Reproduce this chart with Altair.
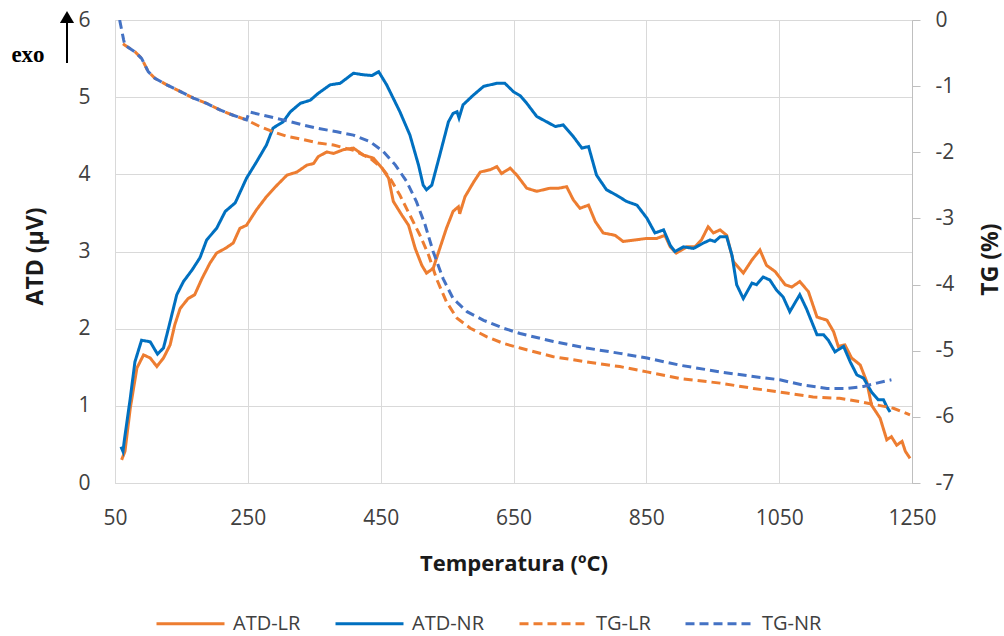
import altair as alt
import pandas as pd

# ---- data ----
atd_lr_t = [60, 65, 73, 83, 93, 103, 113, 123, 133, 140, 148, 160, 170, 181, 193, 203, 216, 228, 238, 248,
            263, 278, 294, 309, 324, 339, 349, 356, 369, 379, 394, 409, 424, 439, 452, 462, 469, 482, 492, 502,
            512, 519, 529, 539, 549, 559, 567, 569, 577, 590, 600, 615, 625, 632, 645, 655, 670, 685, 705, 718,
            730, 740, 750, 763, 773, 785, 803, 815, 833, 851, 866, 878, 886, 895, 911, 923, 933, 943, 951, 961,
            971, 981, 996, 1009, 1021, 1031, 1044, 1059, 1069, 1081, 1094, 1107, 1122, 1132, 1139, 1149, 1159,
            1172, 1182, 1189, 1202, 1212, 1219, 1227, 1235, 1240, 1247]
atd_lr_v = [0.30, 0.41, 0.97, 1.49, 1.66, 1.62, 1.51, 1.62, 1.79, 2.05, 2.26, 2.39, 2.44, 2.65, 2.85, 2.98, 3.04, 3.11, 3.30, 3.34,
            3.54, 3.71, 3.86, 3.99, 4.03, 4.12, 4.14, 4.23, 4.29, 4.27, 4.32, 4.34, 4.25, 4.21, 4.08, 3.95, 3.65, 3.47, 3.34, 3.04,
            2.82, 2.72, 2.78, 3.04, 3.30, 3.52, 3.58, 3.49, 3.71, 3.90, 4.03, 4.06, 4.10, 4.01, 4.08, 3.99, 3.82, 3.78, 3.82, 3.82,
            3.84, 3.67, 3.56, 3.60, 3.39, 3.24, 3.21, 3.13, 3.15, 3.17, 3.17, 3.21, 3.06, 2.98, 3.06, 3.06, 3.15, 3.32, 3.24, 3.28,
            3.21, 2.87, 2.72, 2.89, 3.02, 2.82, 2.74, 2.57, 2.54, 2.61, 2.48, 2.15, 2.11, 1.96, 1.77, 1.79, 1.62,
            1.53, 1.31, 1.01, 0.84, 0.56, 0.60, 0.49, 0.54, 0.41, 0.32]

atd_nr_t = [59, 62, 64, 73, 80, 90, 103, 114, 123, 133, 143, 153, 166, 178, 188, 203, 216, 231, 248, 263,
            278, 288, 303, 314, 329, 344, 356, 374, 389, 409, 424, 437, 447, 459, 479, 494, 507, 514, 519, 527,
            539, 552, 559, 565, 568, 574, 590, 605, 625, 637, 650, 660, 670, 685, 700, 713, 725, 740, 753, 763,
            775, 790, 805, 820, 836, 851, 863, 876, 886, 893, 906, 921, 936, 946, 953, 961, 971, 979, 986, 996,
            1009, 1016, 1026, 1036, 1046, 1056, 1066, 1081, 1091, 1107, 1117, 1124, 1134, 1147, 1157, 1167, 1177,
            1189, 1199, 1207, 1212, 1217]
atd_nr_v = [0.47, 0.41, 0.55, 1.10, 1.57, 1.85, 1.83, 1.67, 1.75, 2.09, 2.44, 2.61, 2.76, 2.92, 3.15, 3.30, 3.52, 3.63, 3.95, 4.16,
            4.38, 4.60, 4.68, 4.81, 4.92, 4.96, 5.05, 5.16, 5.18, 5.31, 5.29, 5.28, 5.33, 5.16, 4.81, 4.51, 4.12, 3.86, 3.80, 3.86,
            4.25, 4.68, 4.79, 4.81, 4.73, 4.90, 5.03, 5.14, 5.18, 5.18, 5.07, 5.02, 4.92, 4.75, 4.68, 4.62, 4.64, 4.49, 4.34, 4.36,
            3.99, 3.80, 3.73, 3.65, 3.60, 3.43, 3.24, 3.28, 3.08, 3.00, 3.06, 3.04, 3.11, 3.15, 3.13, 3.19, 3.19, 2.95, 2.57, 2.39,
            2.59, 2.57, 2.67, 2.63, 2.50, 2.41, 2.22, 2.44, 2.26, 1.92, 1.92, 1.85, 1.70, 1.77, 1.57, 1.40, 1.36,
            1.18, 1.08, 1.08, 0.99, 0.92]

tg_lr_t = [62, 65, 80, 90, 100, 110, 128, 148, 168, 188, 208, 228, 248, 268, 288, 309, 334, 356, 379, 409,
           434, 452, 464, 479, 494, 509, 522, 534, 549, 565, 585, 610, 635, 660, 710, 760, 810, 851, 901, 961,
           1011, 1061, 1101, 1141, 1172, 1197, 1222, 1247]
tg_lr_v = [-0.36, -0.38, -0.48, -0.58, -0.78, -0.88, -0.98, -1.08, -1.18, -1.26, -1.36, -1.44, -1.51, -1.61, -1.69, -1.76, -1.81, -1.86, -1.89, -1.97,
           -2.09, -2.24, -2.39, -2.65, -2.95, -3.25, -3.55, -3.91, -4.26, -4.51, -4.66, -4.79, -4.89, -4.96, -5.09, -5.17, -5.24, -5.32, -5.42, -5.49,
           -5.57, -5.64, -5.70, -5.72, -5.77, -5.82, -5.87, -5.97]

tg_nr_t = [57, 60, 63, 65, 80, 90, 100, 110, 128, 148, 168, 188, 208, 228, 248, 252, 273, 303, 334, 356,
           384, 409, 434, 454, 472, 489, 504, 517, 529, 544, 559, 580, 605, 635, 660, 710, 760, 810, 851, 901,
           961, 1011, 1051, 1086, 1122, 1152, 1177, 1197, 1219]
tg_nr_v = [0.0, -0.15, -0.30, -0.38, -0.48, -0.58, -0.78, -0.88, -0.98, -1.08, -1.18, -1.26, -1.36, -1.44, -1.51, -1.39, -1.44, -1.51, -1.59, -1.64,
           -1.69, -1.74, -1.84, -1.99, -2.19, -2.44, -2.75, -3.10, -3.50, -3.91, -4.21, -4.41, -4.54, -4.66, -4.74, -4.86, -4.96, -5.04, -5.11, -5.22,
           -5.32, -5.39, -5.44, -5.52, -5.57, -5.57, -5.54, -5.49, -5.44]

series_names = ["ATD-LR", "ATD-NR", "TG-LR", "TG-NR"]
series_colors = ["#ED7D31", "#0070C0", "#ED7D31", "#4472C4"]
series_dash = [[1, 0], [1, 0], [9, 5], [9, 5]]
x_ticks = [50, 250, 450, 650, 850, 1050, 1250]
atd_ticks = [0, 1, 2, 3, 4, 5, 6]
tg_ticks = [-7, -6, -5, -4, -3, -2, -1, 0]


def long_df(parts):
    rows = []
    for name, ts, vs in parts:
        for t, v in zip(ts, vs):
            rows.append({"series": name, "T": t, "v": v})
    return pd.DataFrame(rows)


df_atd = long_df([("ATD-LR", atd_lr_t, atd_lr_v), ("ATD-NR", atd_nr_t, atd_nr_v)])
df_tg = long_df([("TG-LR", tg_lr_t, tg_lr_v), ("TG-NR", tg_nr_t, tg_nr_v)])

FONT = "Open Sans"
GRID = "#d9d9d9"
LABEL = "#404040"
TITLE = "#1a1a1a"

legend = alt.Legend(
    title=None, orient="none", direction="horizontal", legendX=40, legendY=568,
    symbolType="stroke", symbolSize=4624, symbolStrokeWidth=3,
    labelFontSize=20, labelFont=FONT, labelColor=LABEL, labelOffset=7,
    columnPadding=28, columns=4,
)
color = alt.Color("series:N", scale=alt.Scale(domain=series_names, range=series_colors), legend=legend)
dash = alt.StrokeDash("series:N", scale=alt.Scale(domain=series_names, range=series_dash), legend=legend)

x_enc = alt.X(
    "T:Q",
    scale=alt.Scale(domain=[50, 1250], nice=False, zero=False),
    axis=alt.Axis(
        values=x_ticks, title="Temperatura (ºC)", grid=True, gridColor=GRID, ticks=False,
        domainColor=GRID, labelFontSize=21, labelFont=FONT, labelColor=LABEL,
        labelPadding=35, labelBaseline="middle", labelFlush=False,
        labelExpr="toString(datum.value)",
        titleFontSize=22, titleFont=FONT, titleFontWeight="bold", titleColor=TITLE,
        titleY=80, titleBaseline="middle",
    ),
)

atd = alt.Chart(df_atd).mark_line(strokeWidth=3, clip=True).encode(
    x=x_enc,
    y=alt.Y(
        "v:Q", scale=alt.Scale(domain=[0, 6], nice=False),
        axis=alt.Axis(
            values=atd_ticks, title="ATD (µV)", grid=True, gridColor=GRID, ticks=False, domain=False,
            labelFontSize=21, labelFont=FONT, labelColor=LABEL, labelPadding=25,
            labelExpr="toString(datum.value)",
            titleFontSize=23, titleFont=FONT, titleFontWeight="bold", titleColor=TITLE,
            titleAngle=270, titleX=-80, titleY=236, titleBaseline="middle", titleAlign="center",
        ),
    ),
    color=color, strokeDash=dash,
)

tg = alt.Chart(df_tg).mark_line(strokeWidth=3, clip=True).encode(
    x=x_enc,
    y=alt.Y(
        "v:Q", scale=alt.Scale(domain=[-7, 0], nice=False),
        axis=alt.Axis(
            orient="right", values=tg_ticks, title="TG (%)", grid=False, ticks=True, tickSize=8,
            tickColor="#bfbfbf", domain=True, domainColor="#bfbfbf",
            labelFontSize=21, labelFont=FONT, labelColor=LABEL, labelPadding=15,
            labelExpr="toString(datum.value)",
            titleFontSize=23, titleFont=FONT, titleFontWeight="bold", titleColor=TITLE,
            titleAngle=270, titleX=78, titleY=239, titleBaseline="middle", titleAlign="center",
        ),
    ),
    color=color, strokeDash=dash,
)

one = pd.DataFrame({"a": [0]})
exo_text = alt.Chart(one).mark_text(
    text="exo", font="Liberation Serif", fontSize=23, fontWeight="bold", color="black", baseline="alphabetic"
).encode(x=alt.value(-87), y=alt.value(42))
exo_line = alt.Chart(one).mark_rule(color="black", strokeWidth=2).encode(
    x=alt.value(-48), y=alt.value(43), y2=alt.value(2)
)
exo_head = alt.Chart(one).mark_point(shape="triangle-up", filled=True, size=200, color="black", opacity=1).encode(
    x=alt.value(-48), y=alt.value(-3)
)

chart = alt.layer(atd, tg, exo_line, exo_head, exo_text).resolve_scale(y="independent").properties(
    width=797, height=463,
    autosize=alt.AutoSizeParams(type="none"),
    padding={"left": 115, "top": 20, "right": 92, "bottom": 153},
).configure_view(stroke=None).configure(background="white")

chart.save("out.html", embed_options={"renderer": "svg", "actions": False})
